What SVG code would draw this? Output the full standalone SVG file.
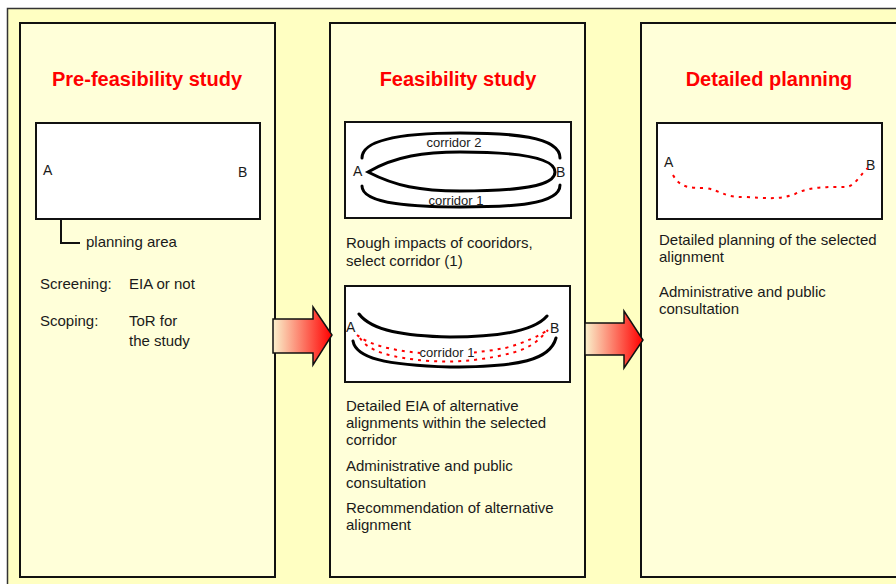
<svg xmlns="http://www.w3.org/2000/svg" width="896" height="584" viewBox="0 0 896 584">
<defs>
<linearGradient id="ag" x1="0" y1="0" x2="1" y2="0">
<stop offset="0" stop-color="#FAF2CC"/>
<stop offset="1" stop-color="#FF0000"/>
</linearGradient>
<style>
.panel{fill:#FFFFD9;stroke:#111;stroke-width:2}
.box{fill:#fff;stroke:#111;stroke-width:2}
.title{font-family:"Liberation Sans",Arial,sans-serif;font-weight:bold;font-size:20px;fill:#FF0000;text-anchor:middle}
.t{font-family:"Liberation Sans",Arial,sans-serif;font-size:15px;fill:#1a1a1a}
.s{font-family:"Liberation Sans",Arial,sans-serif;font-size:13px;fill:#1a1a1a}
.ab{font-family:"Liberation Sans",Arial,sans-serif;font-size:14px;fill:#1a1a1a}
.cor{fill:none;stroke:#000;stroke-width:3;stroke-linecap:round}
.dot{fill:none;stroke:#FF0000;stroke-width:2;stroke-dasharray:3 5}
.arrow{fill:url(#ag);stroke:#111;stroke-width:1.5}
</style>
</defs>
<rect x="7.5" y="8.5" width="900" height="590" fill="#FFFFC2" stroke="#333" stroke-width="1.5"/>

<g id="prefeasibility">
<rect class="panel" x="20" y="23" width="255" height="554"/>
<text class="title" x="147" y="86">Pre-feasibility study</text>
<rect class="box" x="36" y="123" width="224" height="96"/>
<text class="ab" x="43" y="175">A</text>
<text class="ab" x="238" y="177">B</text>
<path d="M61,219 V243 H80" fill="none" stroke="#111" stroke-width="2"/>
<text class="t" x="86" y="247">planning area</text>
<text class="t" x="40" y="289">Screening:</text>
<text class="t" x="129" y="289">EIA or not</text>
<text class="t" x="40" y="326">Scoping:</text>
<text class="t" x="129" y="326">ToR for</text>
<text class="t" x="129" y="346">the study</text>
</g>

<g id="feasibility">
<rect class="panel" x="330" y="23" width="255" height="554"/>
<text class="title" x="458" y="86">Feasibility study</text>
<rect class="box" x="345" y="122" width="226" height="96" stroke-width="2.5"/>
<path class="cor" d="M362,158 C362,136 420,133 460,133 C510,133 560,136 560,158"/>
<path class="cor" d="M362,186 C362,205 420,207 460,207 C510,207 560,205 560,185"/>
<path class="cor" d="M368,172 C395,156 425,152 460,152 C520,152 555,158 555,172 C555,186 520,191 460,191 C420,191 395,186 368,172 Z"/>
<text class="s" x="454" y="147" text-anchor="middle">corridor 2</text>
<text class="s" x="456" y="205" text-anchor="middle">corridor 1</text>
<text class="ab" x="353" y="176">A</text>
<text class="ab" x="556" y="177">B</text>
<text class="t" x="346" y="248">Rough impacts of cooridors,</text>
<text class="t" x="346" y="266">select corridor (1)</text>
<rect class="box" x="345" y="286" width="225" height="96"/>
<path class="cor" d="M359,314 C372,331 405,336 450,337 C500,337 535,330 547,316"/>
<path class="cor" d="M353,341 C356,358 385,365 450,367 C520,367 550,360 556,338"/>
<path class="dot" d="M357,335 C370,345 390,350 420,353 C450,355 480,353 505,348 C525,343 540,335 548,330"/>
<path class="dot" d="M360,338 C368,351 390,358 430,361 C460,363 490,359 515,352 C535,346 540,338 548,330"/>
<rect x="420" y="346" width="54" height="11" fill="#fff"/>
<text class="s" x="447" y="357" text-anchor="middle">corridor 1</text>
<text class="ab" x="346" y="332">A</text>
<text class="ab" x="550" y="333">B</text>
<text class="t" x="346" y="411">Detailed EIA of alternative</text>
<text class="t" x="346" y="428">alignments within the selected</text>
<text class="t" x="346" y="445">corridor</text>
<text class="t" x="346" y="471">Administrative and public</text>
<text class="t" x="346" y="488">consultation</text>
<text class="t" x="346" y="513">Recommendation of alternative</text>
<text class="t" x="346" y="530">alignment</text>
</g>

<g id="detailed">
<rect class="panel" x="641" y="23" width="256" height="554"/>
<text class="title" x="769" y="86">Detailed planning</text>
<rect class="box" x="657" y="123" width="225" height="96"/>
<text class="ab" x="664" y="167">A</text>
<text class="ab" x="866" y="170">B</text>
<path class="dot" d="M673,175 C680,188 690,188 705,188 C720,190 725,198 745,197 C765,198 780,200 795,194 C810,186 830,187 847,187 C856,185 862,172 868,168"/>
<text class="t" x="659" y="245">Detailed planning of the selected</text>
<text class="t" x="659" y="262">alignment</text>
<text class="t" x="659" y="297">Administrative and public</text>
<text class="t" x="659" y="314">consultation</text>
</g>

<g id="connectors">
<polygon class="arrow" points="273,319 313,319 313,307 332,335 313,365 313,353 273,353"/>
<polygon class="arrow" points="585,323 624,323 624,311 643,340 624,368 624,355 585,355"/>
</g>
</svg>
